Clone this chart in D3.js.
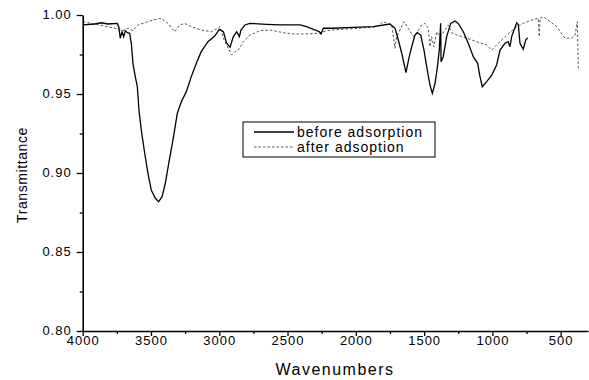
<!DOCTYPE html>
<html>
<head>
<meta charset="utf-8">
<script src="https://cdn.jsdelivr.net/npm/d3@7"></script>
<style>
  html, body { margin: 0; padding: 0; background: #fff; }
  svg { display: block; }
  text { font-family: "Liberation Sans", Arial, sans-serif; fill: #000; }
</style>
</head>
<body>
<svg id="chart" width="589" height="380"></svg>
<script>
// ---- data ----
const beforeWavenumber = [3998, 3912, 3864, 3815, 3747, 3736, 3725, 3712, 3700, 3688, 3673, 3656, 3644, 3632, 3615, 3600, 3588, 3571, 3546, 3522, 3498, 3468, 3444, 3419, 3395, 3370, 3339, 3307, 3278, 3241, 3205, 3168, 3132, 3083, 3033, 3000, 2970, 2946, 2921, 2897, 2872, 2853, 2841, 2812, 2775, 2653, 2555, 2409, 2360, 2311, 2267, 2255, 2238, 2165, 2019, 1872, 1750, 1713, 1689, 1664, 1633, 1609, 1591, 1567, 1550, 1525, 1501, 1477, 1457, 1440, 1420, 1404, 1389, 1379, 1376, 1360, 1335, 1305, 1274, 1250, 1213, 1177, 1140, 1108, 1091, 1074, 1042, 1005, 969, 944, 908, 884, 871, 859, 822, 810, 798, 774, 756, 742];
const beforeTransmittance = [0.9937, 0.9943, 0.9951, 0.9943, 0.9947, 0.9926, 0.9853, 0.9894, 0.9863, 0.9901, 0.9888, 0.9884, 0.9821, 0.9694, 0.9610, 0.9546, 0.9399, 0.9272, 0.9125, 0.8998, 0.8892, 0.8840, 0.8818, 0.8850, 0.8935, 0.9061, 0.9209, 0.9378, 0.9451, 0.9515, 0.9610, 0.9694, 0.9768, 0.9831, 0.9867, 0.9909, 0.9894, 0.9821, 0.9796, 0.9863, 0.9894, 0.9863, 0.9905, 0.9937, 0.9947, 0.9941, 0.9937, 0.9937, 0.9926, 0.9909, 0.9894, 0.9880, 0.9916, 0.9916, 0.9922, 0.9926, 0.9943, 0.9916, 0.9842, 0.9758, 0.9635, 0.9736, 0.9799, 0.9873, 0.9888, 0.9873, 0.9778, 0.9652, 0.9557, 0.9504, 0.9568, 0.9663, 0.9778, 0.9947, 0.9704, 0.9736, 0.9863, 0.9947, 0.9962, 0.9947, 0.9894, 0.9821, 0.9736, 0.9694, 0.9610, 0.9546, 0.9578, 0.9620, 0.9684, 0.9778, 0.9821, 0.9831, 0.9799, 0.9863, 0.9951, 0.9937, 0.9821, 0.9783, 0.9842, 0.9856];

const afterWavenumber = [3998, 3937, 3839, 3766, 3705, 3668, 3632, 3595, 3546, 3485, 3424, 3375, 3326, 3290, 3253, 3205, 3132, 3058, 3009, 2995, 2970, 2934, 2909, 2885, 2861, 2824, 2775, 2702, 2629, 2531, 2458, 2360, 2275, 2213, 2116, 1970, 1847, 1799, 1737, 1713, 1701, 1677, 1647, 1616, 1579, 1554, 1518, 1494, 1469, 1457, 1445, 1428, 1408, 1384, 1347, 1323, 1298, 1261, 1188, 1115, 1042, 1005, 969, 895, 822, 774, 712, 664, 657, 651, 627, 578, 529, 468, 419, 395, 378, 371];
const afterTransmittance = [0.9958, 0.9947, 0.9930, 0.9916, 0.9901, 0.9916, 0.9901, 0.9937, 0.9951, 0.9968, 0.9979, 0.9947, 0.9894, 0.9937, 0.9947, 0.9926, 0.9905, 0.9894, 0.9916, 0.9926, 0.9853, 0.9789, 0.9747, 0.9768, 0.9778, 0.9831, 0.9873, 0.9901, 0.9905, 0.9888, 0.9880, 0.9880, 0.9884, 0.9901, 0.9909, 0.9916, 0.9926, 0.9958, 0.9937, 0.9789, 0.9863, 0.9905, 0.9958, 0.9916, 0.9863, 0.9888, 0.9937, 0.9947, 0.9916, 0.9799, 0.9863, 0.9799, 0.9894, 0.9863, 0.9905, 0.9937, 0.9888, 0.9873, 0.9853, 0.9831, 0.9810, 0.9778, 0.9810, 0.9873, 0.9926, 0.9947, 0.9968, 0.9979, 0.9863, 0.9981, 0.9989, 0.9958, 0.9926, 0.9853, 0.9853, 0.9873, 0.9958, 0.9652];

const xMajorTicks = [4000, 3500, 3000, 2500, 2000, 1500, 1000, 500];
const xMinorTicks = [3750, 3250, 2750, 2250, 1750, 1250, 750];
const yMajorTicks = [0.80, 0.85, 0.90, 0.95, 1.00];
const yMinorTicks = [0.825, 0.875, 0.925, 0.975];
const seriesNames = ["before adsorption", "after adsoption"];
const xTitle = "Wavenumbers";
const yTitle = "Transmittance";

// ---- drawing ----
const svg = d3.select("#chart");
const x = d3.scaleLinear().domain([4000, 300]).range([82.7, 588]);
const y = d3.scaleLinear().domain([0.80, 1.00]).range([331, 15]);

const line = d3.line().x(d => x(d[0])).y(d => y(d[1]));
const before = beforeWavenumber.map((w, i) => [w, beforeTransmittance[i]]);
const after = afterWavenumber.map((w, i) => [w, afterTransmittance[i]]);

svg.append("path").datum(after)
  .attr("d", line).attr("fill", "none")
  .attr("stroke", "#555").attr("stroke-width", 1)
  .attr("stroke-dasharray", "2.5,2");

svg.append("path").datum(before)
  .attr("d", line).attr("fill", "none")
  .attr("stroke", "#000").attr("stroke-width", 1.3);

// axes
const fmtY = d3.format(".2f");
const gx = svg.append("g").attr("transform", "translate(0,331)");
gx.call(d3.axisBottom(x).tickValues(xMajorTicks).tickSize(5).tickSizeOuter(0).tickFormat(d3.format("d")));
const gxm = svg.append("g").attr("transform", "translate(0,331)");
gxm.call(d3.axisBottom(x).tickValues(xMinorTicks).tickSize(3).tickSizeOuter(0).tickFormat(""));
gxm.select(".domain").remove();

const gy = svg.append("g").attr("transform", "translate(82.7,0)");
gy.call(d3.axisLeft(y).tickValues(yMajorTicks).tickSize(6).tickSizeOuter(0).tickFormat(fmtY));
const gym = svg.append("g").attr("transform", "translate(82.7,0)");
gym.call(d3.axisLeft(y).tickValues(yMinorTicks).tickSize(3).tickSizeOuter(0).tickFormat(""));
gym.select(".domain").remove();

svg.selectAll(".domain").attr("stroke", "#000").attr("stroke-width", 1.6);
svg.selectAll(".tick line").attr("stroke", "#000").attr("stroke-width", 1.3);

gx.selectAll(".tick text")
  .attr("y", 14).attr("dy", null)
  .style("font-size", "13px").style("letter-spacing", "1px")
  .attr("font-family", null);
gy.selectAll(".tick text")
  .attr("x", -11).attr("dy", "0.3em")
  .style("font-size", "13px").style("letter-spacing", "1px")
  .attr("font-family", null);

// titles
svg.append("text")
  .attr("x", 335).attr("y", 375)
  .attr("text-anchor", "middle")
  .style("font-size", "16px").style("letter-spacing", "1.5px")
  .text(xTitle);

svg.append("text")
  .attr("transform", "translate(27,175) rotate(-90)")
  .attr("text-anchor", "middle")
  .style("font-size", "14px").style("letter-spacing", "0.6px")
  .text(yTitle);

// legend
const lg = svg.append("g");
lg.append("rect")
  .attr("x", 243).attr("y", 122).attr("width", 192).attr("height", 35)
  .attr("fill", "#fff").attr("stroke", "#000").attr("stroke-width", 1);
const legendStyles = [
  { stroke: "#000", width: 1.3, dash: null },
  { stroke: "#555", width: 1, dash: "2.5,2" }
];
seriesNames.forEach((name, i) => {
  const yy = 132 + i * 15;
  lg.append("line")
    .attr("x1", 254).attr("x2", 294).attr("y1", yy).attr("y2", yy)
    .attr("stroke", legendStyles[i].stroke)
    .attr("stroke-width", legendStyles[i].width)
    .attr("stroke-dasharray", legendStyles[i].dash);
  lg.append("text")
    .attr("x", 297).attr("y", yy + 5)
    .style("font-size", "14px").style("letter-spacing", "1px")
    .text(name);
});
</script>
</body>
</html>
